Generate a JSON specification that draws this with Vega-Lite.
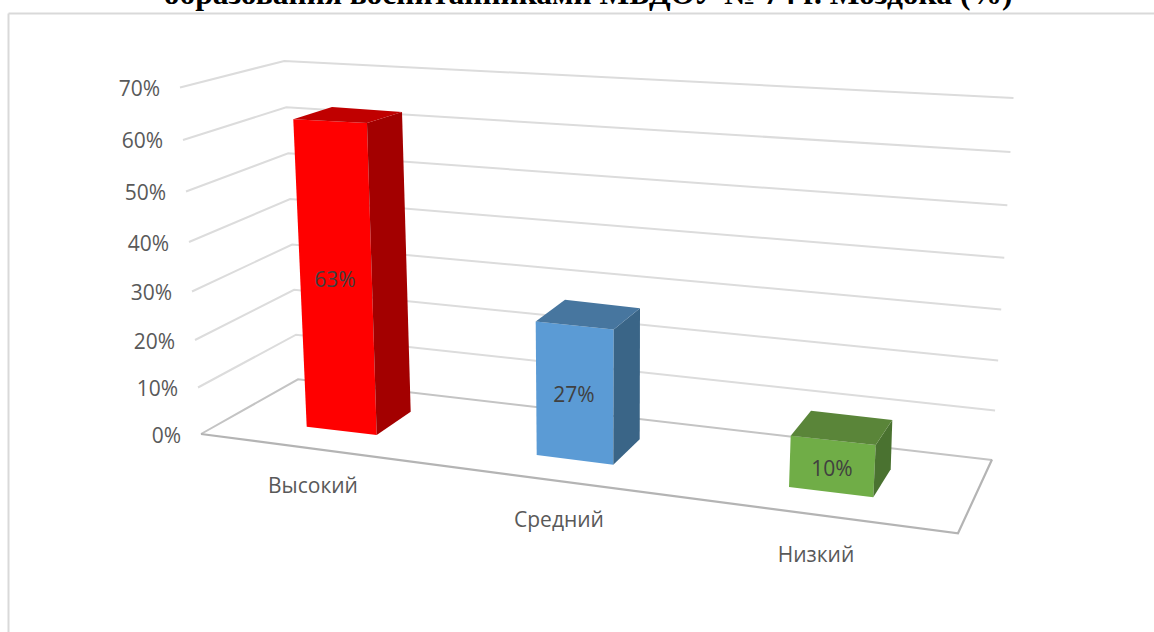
{
  "$schema": "https://vega.github.io/schema/vega-lite/v6.json",
  "width": 1146,
  "height": 619,
  "padding": {"left": 8, "top": 13, "right": 0, "bottom": 0},
  "autosize": "none",
  "background": "white",
  "view": {"stroke": null},
  "datasets": {
    "bars": [
      {"level": "Высокий", "value": 63, "slot": 0},
      {"level": "Средний", "value": 27, "slot": 1},
      {"level": "Низкий", "value": 10, "slot": 2}
    ],
    "ticks": [
      {"tick": 0}, {"tick": 10}, {"tick": 20}, {"tick": 30},
      {"tick": 40}, {"tick": 50}, {"tick": 60}, {"tick": 70}
    ]
  },
  "layer": [
    {
      "data": {"name": "ticks"},
      "transform": [
        {"calculate": "datum.tick/10", "as": "v"},
        {"calculate": "[0,1,2]", "as": "pt"},
        {"flatten": ["pt"]},
        {"calculate": "[201-3*datum.v, 298-1.96*datum.v, 992+3.07*datum.v][datum.pt]", "as": "px"},
        {"calculate": "[434-46*datum.v-0.5*datum.v*datum.v, 379.3-44.5*datum.v-0.14*datum.v*datum.v, 460-49*datum.v-0.39*datum.v*datum.v][datum.pt]", "as": "py"}
      ],
      "mark": {"type": "line", "strokeWidth": 2, "interpolate": "linear"},
      "encoding": {
        "x": {"field": "px", "type": "quantitative", "scale": {"domain": [8, 1154], "nice": false, "zero": false},
          "axis": {"orient": "top", "title": null, "labels": false, "ticks": false, "grid": false, "domainColor": "#d9d9d9", "domainWidth": 2}},
        "y": {"field": "py", "type": "quantitative", "scale": {"domain": [632, 13], "nice": false, "zero": false},
          "axis": {"orient": "left", "title": null, "labels": false, "ticks": false, "grid": false, "domainColor": "#d9d9d9", "domainWidth": 2}},
        "detail": {"field": "tick"},
        "order": {"field": "pt"},
        "color": {"condition": {"test": "datum.tick===0", "value": "#c4c4c4"}, "value": "#dcdcdc"}
      }
    },
    {
      "data": {"name": "ticks"},
      "transform": [
        {"filter": "datum.tick===0"},
        {"calculate": "[0,1,2]", "as": "pt"},
        {"flatten": ["pt"]},
        {"calculate": "[201,958,992][datum.pt]", "as": "px"},
        {"calculate": "[434,533.3,459.5][datum.pt]", "as": "py"}
      ],
      "mark": {"type": "line", "strokeWidth": 2.2, "color": "#b4b4b4"},
      "encoding": {
        "x": {"field": "px", "type": "quantitative"},
        "y": {"field": "py", "type": "quantitative"},
        "order": {"field": "pt"}
      }
    },
    {
      "data": {"name": "bars"},
      "transform": [
        {"calculate": "[0,1,2]", "as": "f"},
        {"flatten": ["f"]},
        {"calculate": "[0,1,2,3]", "as": "i"},
        {"flatten": ["i"]},
        {"calculate": "[[0,1,1,0],[1,2,2,1],[0,1,2,3]][datum.f][datum.i]", "as": "corner"},
        {"calculate": "[[0,0,1,1],[0,0,1,1],[1,1,1,1]][datum.f][datum.i]", "as": "up"},
        {"calculate": "[[[306.7,426.7,-0.213,-4.88],[376.7,435,-0.154,-4.952],[410.7,411.7,-0.138,-4.757],[342.7,403,-0.17,-4.7]],[[536.7,455,-0.037,-4.94],[613.3,464.7,0.015,-5.01],[639.7,439.3,0.011,-4.85],[565,430.6,0,-4.85]],[[789,487,0.17,-5.13],[873.3,497.3,0.24,-5.23],[890.7,469.3,0.16,-4.93],[809.5,459.7,0.15,-4.9]]][datum.slot][datum.corner]", "as": "c"},
        {"calculate": "datum.c[0]+datum.up*datum.value*datum.c[2]", "as": "px"},
        {"calculate": "datum.c[1]+datum.up*datum.value*datum.c[3]", "as": "py"},
        {"calculate": "datum.level+'-'+datum.f", "as": "face"}
      ],
      "mark": {"type": "line", "filled": true, "strokeWidth": 0.5},
      "encoding": {
        "x": {"field": "px", "type": "quantitative"},
        "y": {"field": "py", "type": "quantitative"},
        "order": {"field": "i"},
        "color": {
          "field": "face",
          "type": "nominal",
          "legend": null,
          "scale": {
            "domain": ["Высокий-0", "Высокий-1", "Высокий-2", "Средний-0", "Средний-1", "Средний-2", "Низкий-0", "Низкий-1", "Низкий-2"],
            "range": ["#ff0000", "#a30000", "#c00000", "#5b9bd5", "#3a6587", "#47769f", "#70ad47", "#4a7230", "#5a8539"]
          }
        }
      }
    },
    {
      "data": {"name": "ticks"},
      "transform": [
        {"calculate": "datum.tick/10", "as": "v"},
        {"calculate": "181-3*datum.v", "as": "px"},
        {"calculate": "437-46.1*datum.v-0.5*datum.v*datum.v", "as": "py"},
        {"calculate": "datum.tick+'%'", "as": "lab"}
      ],
      "mark": {"type": "text", "font": "Open Sans", "fontSize": 21, "align": "right", "baseline": "middle", "color": "#595959"},
      "encoding": {
        "x": {"field": "px", "type": "quantitative"},
        "y": {"field": "py", "type": "quantitative"},
        "text": {"field": "lab"}
      }
    },
    {
      "data": {"name": "bars"},
      "transform": [
        {"calculate": "[313,559,816][datum.slot]", "as": "px"},
        {"calculate": "[487,521,556][datum.slot]", "as": "py"}
      ],
      "mark": {"type": "text", "font": "Open Sans", "fontSize": 21, "align": "center", "baseline": "middle", "color": "#595959"},
      "encoding": {
        "x": {"field": "px", "type": "quantitative"},
        "y": {"field": "py", "type": "quantitative"},
        "text": {"field": "level"}
      }
    },
    {
      "data": {"name": "bars"},
      "transform": [
        {"calculate": "[335,574,832][datum.slot]", "as": "px"},
        {"calculate": "[281,396,470][datum.slot]", "as": "py"},
        {"calculate": "datum.value+'%'", "as": "lab"}
      ],
      "mark": {"type": "text", "font": "Open Sans", "fontSize": 21, "align": "center", "baseline": "middle", "color": "#404040"},
      "encoding": {
        "x": {"field": "px", "type": "quantitative"},
        "y": {"field": "py", "type": "quantitative"},
        "text": {"field": "lab"}
      }
    },
    {
      "data": {"values": [{"heading": "образования воспитанниками МБДОУ № 74 г. Моздока (%)"}]},
      "mark": {"type": "text", "font": "Liberation Serif", "fontSize": 31.5, "fontWeight": "bold", "align": "center", "baseline": "alphabetic", "color": "#000000", "clip": false},
      "encoding": {
        "x": {"datum": 588, "type": "quantitative"},
        "y": {"datum": 3.5, "type": "quantitative"},
        "text": {"field": "heading"}
      }
    }
  ]
}
